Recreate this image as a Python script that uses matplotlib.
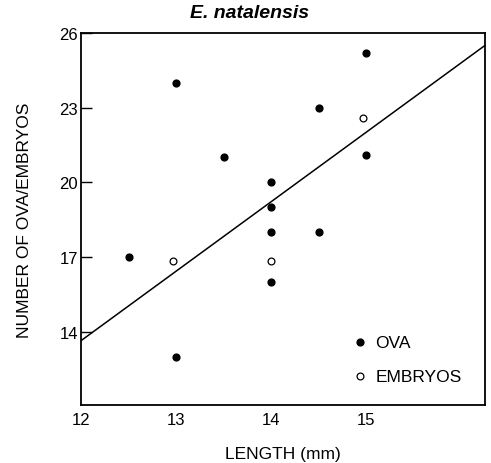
import matplotlib
matplotlib.use("Agg")
import matplotlib.pyplot as plt

# data
ova_len = [12.5, 13, 13, 13.5, 14, 14, 14, 14, 14.5, 14.5, 15, 15]
ova_num = [17, 24, 13, 21, 20, 19, 18, 16, 23, 18, 25.2, 21.1]
emb_len = [12.97, 14, 14.97]
emb_num = [16.85, 16.85, 22.6]
line_x = [12, 16.25]
line_y = [13.65, 25.5]

plt.rcParams['font.family'] = ['Liberation Sans', 'DejaVu Sans']

fig = plt.figure(figsize=(4.91, 4.64), dpi=100)
ax = fig.add_axes([0.165, 0.125, 0.823, 0.802])

ax.plot(line_x, line_y, color='black', lw=1.1)
ax.scatter(ova_len, ova_num, s=24, color='black', label='OVA', zorder=3)
ax.scatter(emb_len, emb_num, s=24, facecolor='white', edgecolor='black',
           linewidth=0.9, label='EMBRYOS', zorder=3)

ax.set_xlim(12, 16.25)
ax.set_ylim(11.07, 26)
ax.set_xticks([12, 13, 14, 15])
ax.set_yticks([14, 17, 20, 23, 26])
ax.tick_params(axis='x', length=0, labelsize=12, pad=5)
ax.tick_params(axis='y', direction='in', length=8, width=1, labelsize=12, pad=2)
for s in ax.spines.values():
    s.set_linewidth(1.3)

ax.set_xlabel('LENGTH (mm)', fontsize=12.5, labelpad=14)
ax.set_ylabel('NUMBER OF OVA/EMBRYOS', fontsize=12.5, labelpad=20)
fig.text(250 / 491, 0.97, 'E. natalensis', fontsize=14, fontweight='bold',
         style='italic', ha='center', va='center')

ax.legend(loc='lower right', frameon=False, fontsize=12.5, handlelength=0.8,
          handletextpad=0.5, labelspacing=1.1, bbox_to_anchor=(0.98, 0.015))

fig.savefig('out.png', dpi=100)
